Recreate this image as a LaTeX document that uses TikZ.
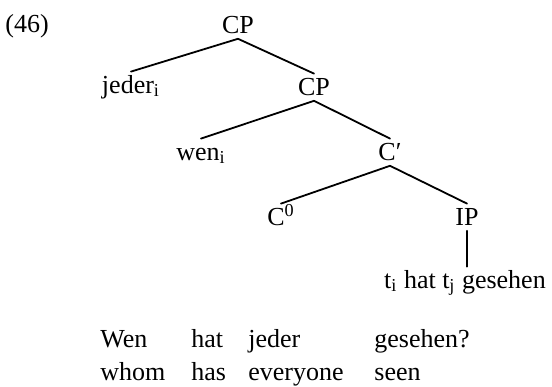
\documentclass[tikz,border=0pt]{standalone}
\usepackage{fontspec}
\setmainfont{Liberation Serif}
\begin{document}
\begin{tikzpicture}[line cap=round,line join=round,x=.5pt,y=-.5pt,
		cat/.style={anchor=base,inner sep=1.5pt,text height=9pt,text depth=1.2pt,font=\fontsize{13}{15}\selectfont},
		word/.style={anchor=base west,inner sep=0pt,font=\fontsize{13}{15}\selectfont},
		branch/.style={line width=.9pt}]
		\useasboundingbox (0,0) rectangle (552,386);
		% tree
		\node[word] (num) at (5,32) {(46)};
		\node[cat] (cp1) at (238,33) {CP};
		\node[cat] (jeder) at (131,93) {jeder\textsubscript{i}};
		\node[cat] (cp2) at (314,95) {CP};
		\node[cat] (wen) at (201,160) {wen\textsubscript{i}};
		\node[cat] (cbar) at (390,160) {C′};
		\node[cat] (c0) at (281,225) {C\textsuperscript{0}};
		\node[cat] (ip) at (467,225) {IP};
		\node[cat] (trace) at (465,288) {t\textsubscript{i} hat t\textsubscript{j} gesehen};
		\draw[branch] (cp1.south)--(jeder.north);
		\draw[branch] (cp1.south)--(cp2.north);
		\draw[branch] (cp2.south)--(wen.north);
		\draw[branch] (cp2.south)--(cbar.north);
		\draw[branch] (cbar.south)--(c0.north);
		\draw[branch] (cbar.south)--(ip.north);
		\draw[branch] (ip.south)--(ip.south|-trace.north);
		% gloss
		\node[word] (w1) at (100,347) {Wen};
		\node[word] (w2) at (191,347) {hat};
		\node[word] (w3) at (248,347) {jeder};
		\node[word] (w4) at (374,347) {gesehen?};
		\node[word] (g1) at (100,380) {whom};
		\node[word] (g2) at (191,380) {has};
		\node[word] (g3) at (248,380) {everyone};
		\node[word] (g4) at (374,380) {seen};
	\end{tikzpicture}
\end{document}
